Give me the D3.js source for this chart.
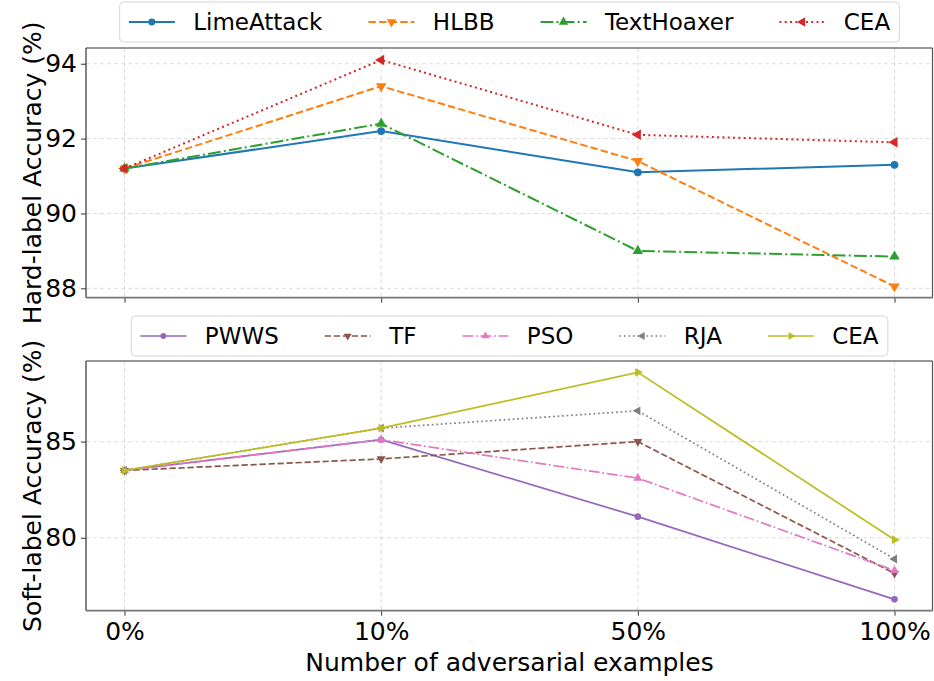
<!DOCTYPE html>
<html>
<head>
<meta charset="utf-8">
<script src="https://cdn.jsdelivr.net/npm/d3@7"></script>
<style>
  body { margin: 0; background: #fff; }
  text { font-family: "DejaVu Sans", sans-serif; fill: #000; }
</style>
</head>
<body>
<script>
// categories on the shared x axis
var categories = ["0%", "10%", "50%", "100%"];

// hard-label attacks (top panel)
var limeAttack = [91.2, 92.2, 91.1, 91.3];
var hlbb       = [91.2, 93.4, 91.4, 88.05];
var textHoaxer = [91.2, 92.4, 89.0, 88.85];
var ceaHard    = [91.2, 94.1, 92.1, 91.9];
var hardTicks  = [88, 90, 92, 94];

// soft-label attacks (bottom panel)
var pwws    = [83.5, 85.1, 81.1, 76.8];
var tf      = [83.5, 84.1, 85.0, 78.15];
var pso     = [83.5, 85.1, 83.1, 78.3];
var rja     = [83.5, 85.7, 86.6, 78.9];
var ceaSoft = [83.5, 85.7, 88.6, 79.9];
var softTicks = [80, 85];

var W = 934, H = 681;
var tickFont = 25, labelFont = 25, legendFont = 23;

var svg = d3.select("body").append("svg")
    .attr("width", W)
    .attr("height", H);

var x = d3.scaleLinear().domain([-0.15, 3.15]).range([86, 933]);

// dash patterns like matplotlib, scaled to line width
function dash(style, lw) {
  if (style == "dashed") return [3.7 * lw, 1.6 * lw].join(",");
  if (style == "dashdot") return [6.4 * lw, 1.6 * lw, 1 * lw, 1.6 * lw].join(",");
  if (style == "dotted") return [1 * lw, 1.65 * lw].join(",");
  return null;
}

var markerRot = { "o": 0, "^": 0, "v": 180, "<": -90, ">": 90 };
function markerPath(m, size) {
  var type = m == "o" ? d3.symbolCircle : d3.symbolTriangle;
  return d3.symbol().type(type).size(size)();
}

function panel(opts) {
  var top = opts.top, bottom = opts.bottom;
  var y = d3.scaleLinear().domain(opts.domain).range([bottom, top]);
  var g = svg.append("g");

  // grid
  g.selectAll("line.gx").data(categories).enter().append("line")
      .attr("x1", function(d, i) { return x(i); })
      .attr("x2", function(d, i) { return x(i); })
      .attr("y1", top).attr("y2", bottom)
      .attr("stroke", "#d3d3d3").attr("stroke-width", 0.8)
      .attr("stroke-dasharray", "4,3");
  g.selectAll("line.gy").data(opts.ticks).enter().append("line")
      .attr("x1", x.range()[0]).attr("x2", x.range()[1])
      .attr("y1", function(d) { return y(d); })
      .attr("y2", function(d) { return y(d); })
      .attr("stroke", "#d3d3d3").attr("stroke-width", 0.8)
      .attr("stroke-dasharray", "4,3");

  // y axis
  var yAxis = d3.axisLeft(y).tickValues(opts.ticks).tickSize(5).tickPadding(4)
      .tickFormat(d3.format("d"));
  var ya = g.append("g").attr("transform", "translate(" + x.range()[0] + ",0)").call(yAxis);
  ya.select(".domain").remove();
  ya.selectAll(".tick line").attr("stroke", "#333").attr("stroke-width", 1);
  ya.selectAll(".tick text").style("font-size", tickFont + "px")
      .style("font-family", "DejaVu Sans");

  // x axis ticks
  var xAxis = d3.axisBottom(x).tickValues([0, 1, 2, 3]).tickSize(5).tickPadding(7)
      .tickFormat(function(d) { return opts.xlabels ? categories[d] : ""; });
  var xa = g.append("g").attr("transform", "translate(0," + bottom + ")").call(xAxis);
  xa.select(".domain").remove();
  xa.selectAll(".tick line").attr("stroke", "#333").attr("stroke-width", 1);
  xa.selectAll(".tick text").style("font-size", tickFont + "px")
      .style("font-family", "DejaVu Sans");

  // lines + markers
  var line = d3.line()
      .x(function(d, i) { return x(i); })
      .y(function(d) { return y(d); });

  opts.series.forEach(function(s) {
    g.append("path")
        .attr("d", line(s.values))
        .attr("fill", "none")
        .attr("stroke", s.color)
        .attr("stroke-width", opts.lw)
        .attr("stroke-dasharray", dash(s.style, opts.lw));
    g.selectAll(null).data(s.values).enter().append("path")
        .attr("d", markerPath(s.marker, opts.msize))
        .attr("transform", function(d, i) {
          return "translate(" + x(i) + "," + y(d) + ") rotate(" + markerRot[s.marker] + ")";
        })
        .attr("fill", s.color);
  });

  // spines
  var x0 = x.range()[0], x1 = x.range()[1] - 0.5;
  g.append("line").attr("x1", x0).attr("x2", x1).attr("y1", top).attr("y2", top)
      .attr("stroke", "#333").attr("stroke-width", 1.2);
  g.append("line").attr("x1", x0).attr("x2", x0).attr("y1", top).attr("y2", bottom)
      .attr("stroke", "#333").attr("stroke-width", 1.2);
  g.append("line").attr("x1", x1).attr("x2", x1).attr("y1", top).attr("y2", bottom)
      .attr("stroke", "#555").attr("stroke-width", 1.2);
  g.append("line").attr("x1", x0).attr("x2", x1 + 0.5).attr("y1", bottom).attr("y2", bottom)
      .attr("stroke", "#777").attr("stroke-width", 1.8);

  // y label
  svg.append("text")
      .attr("transform", "translate(32," + ((top + bottom) / 2) + ") rotate(-90)")
      .attr("text-anchor", "middle")
      .attr("dy", "0.35em")
      .style("font-size", labelFont + "px")
      .text(opts.ylabel);

  // legend
  legend(opts.series, opts.legendTop, opts.lw, opts.msize);
}

function legend(series, top, lw, msize) {
  var lg = svg.append("g");
  var box = lg.append("rect");
  var fs = legendFont;
  var handleLen = 2 * fs, pad = 0.8 * fs, colSp = 2 * fs;
  var items = lg.selectAll("g.item").data(series).enter().append("g");
  var offsets = [];
  var cx = 0;
  items.each(function(s) {
    var it = d3.select(this);
    var t = it.append("text")
        .attr("x", handleLen + pad)
        .attr("y", 0)
        .attr("dy", "0.35em")
        .style("font-size", fs + "px")
        .text(s.name);
    it.append("line")
        .attr("x1", 0).attr("x2", handleLen)
        .attr("stroke", s.color).attr("stroke-width", lw)
        .attr("stroke-dasharray", dash(s.style, lw));
    it.append("path")
        .attr("d", markerPath(s.marker, msize * 0.8))
        .attr("transform", "translate(" + handleLen / 2 + ",0) rotate(" + markerRot[s.marker] + ")")
        .attr("fill", s.color);
    offsets.push(cx);
    cx += handleLen + pad + t.node().getComputedTextLength() + colSp;
  });
  var inner = cx - colSp;
  var bp = 0.4 * fs;
  var h = 40, w = inner + 2 * bp;
  var left = (x.range()[0] + x.range()[1]) / 2 - w / 2;
  box.attr("x", left).attr("y", top).attr("width", w).attr("height", h)
      .attr("rx", 4).attr("fill", "#fff").attr("fill-opacity", 0.8)
      .attr("stroke", "#d6d6d6").attr("stroke-width", 1);
  items.attr("transform", function(d, i) {
    return "translate(" + (left + bp + offsets[i]) + "," + (top + h / 2) + ")";
  });
}

panel({
  top: 48, bottom: 297.7,
  domain: [87.75, 94.42],
  ticks: hardTicks,
  xlabels: false,
  lw: 2, msize: 48,
  ylabel: "Hard-label Accuracy (%)",
  legendTop: 2,
  series: [
    { name: "LimeAttack", values: limeAttack, color: "#1f77b4", style: "solid", marker: "o" },
    { name: "HLBB", values: hlbb, color: "#ff7f0e", style: "dashed", marker: "v" },
    { name: "TextHoaxer", values: textHoaxer, color: "#2ca02c", style: "dashdot", marker: "^" },
    { name: "CEA", values: ceaHard, color: "#d62728", style: "dotted", marker: "<" }
  ]
});

panel({
  top: 361, bottom: 610.7,
  domain: [76.21, 89.19],
  ticks: softTicks,
  xlabels: true,
  lw: 1.7, msize: 34,
  ylabel: "Soft-label Accuracy (%)",
  legendTop: 316,
  series: [
    { name: "PWWS", values: pwws, color: "#9467bd", style: "solid", marker: "o" },
    { name: "TF", values: tf, color: "#8c564b", style: "dashed", marker: "v" },
    { name: "PSO", values: pso, color: "#e377c2", style: "dashdot", marker: "^" },
    { name: "RJA", values: rja, color: "#7f7f7f", style: "dotted", marker: "<" },
    { name: "CEA", values: ceaSoft, color: "#bcbd22", style: "solid", marker: ">" }
  ]
});

// x label
svg.append("text")
    .attr("x", (x.range()[0] + x.range()[1]) / 2)
    .attr("y", 662)
    .attr("dy", "0.35em")
    .attr("text-anchor", "middle")
    .style("font-size", labelFont + "px")
    .text("Number of adversarial examples");
</script>
</body>
</html>
